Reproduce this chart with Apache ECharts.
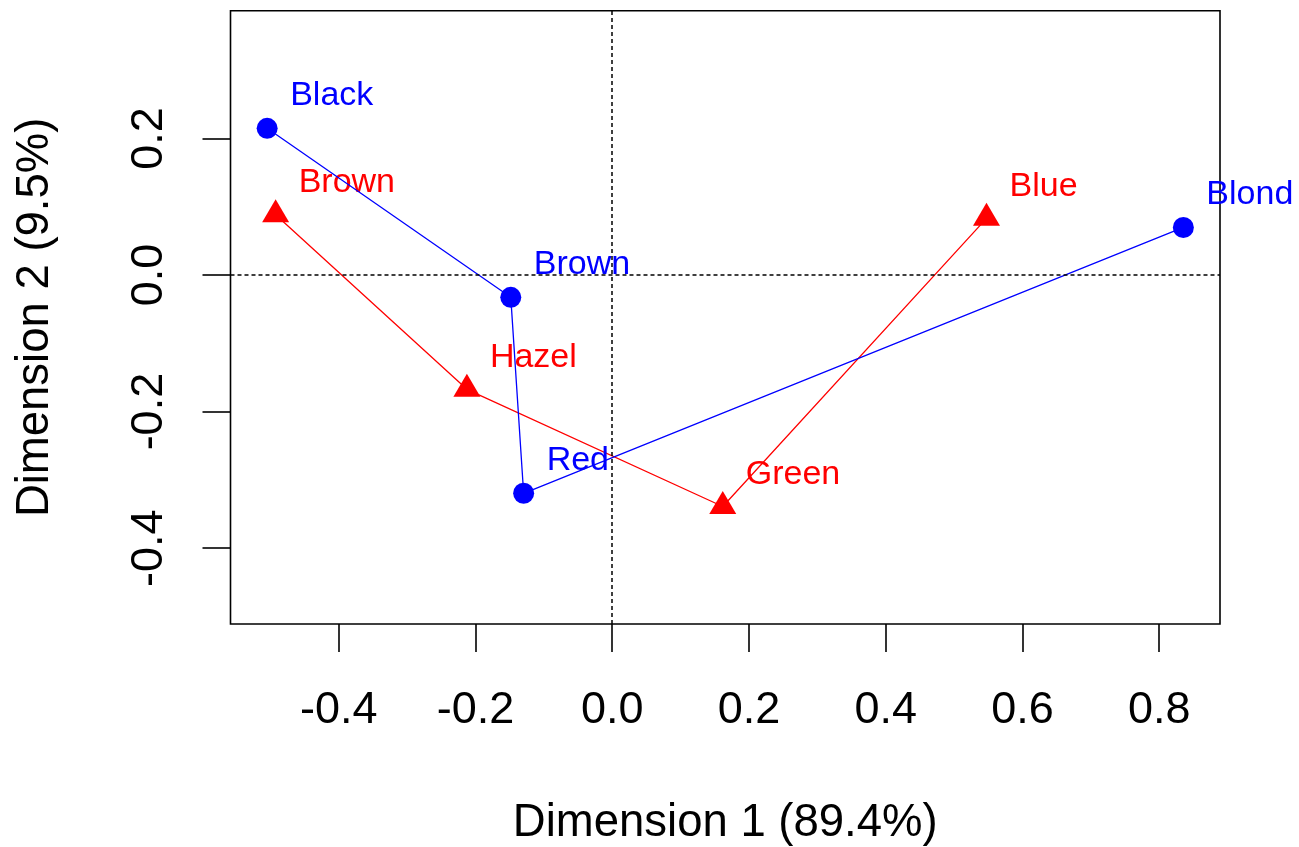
<!DOCTYPE html>
<html>
<head>
<meta charset="utf-8">
<title>CA biplot</title>
<script src="https://cdn.jsdelivr.net/npm/echarts@6/dist/echarts.min.js"></script>
<style>
  html, body { margin: 0; padding: 0; background: #fff; }
  #chart { width: 1299px; height: 847px; }
</style>
</head>
<body>
<div id="chart"></div>
<script>
// hair colour (rows) and eye colour (columns) coordinates
var hairNames = ['Black', 'Brown', 'Red', 'Blond'];
var hairDim1 = [-0.5046, -0.1483, -0.1295, 0.8353];
var hairDim2 = [0.2148, -0.0327, -0.3196, 0.0696];

var eyeNames = ['Brown', 'Hazel', 'Green', 'Blue'];
var eyeDim1 = [-0.4922, -0.2125, 0.1617, 0.5474];
var eyeDim2 = [0.0883, -0.1674, -0.3390, 0.0830];

var xTicks = [-0.4, -0.2, 0.0, 0.2, 0.4, 0.6, 0.8];
var yTicks = [-0.4, -0.2, 0.0, 0.2];
var xRange = [-0.5582, 0.8889];
var yRange = [-0.511, 0.387];

var font = '"Liberation Sans", Arial, sans-serif';

function points(names, d1, d2) {
    return names.map(function (n, i) {
        return { name: n, value: [d1[i], d2[i]] };
    });
}

var chartDom = document.getElementById('chart');
var myChart = echarts.init(chartDom);
var option;

var axisCommon = {
    type: 'value',
    nameLocation: 'middle',
    nameTextStyle: { fontFamily: font, fontSize: 45.5, color: '#000' },
    // keep the axes on the frame edges, not at zero
    axisLine: { show: false, onZero: false },
    splitLine: { show: false },
    axisTick: {
        show: true,
        inside: false,
        length: 28,
        lineStyle: { color: '#000', width: 1.6 }
    },
    axisLabel: {
        fontFamily: font,
        fontSize: 45,
        color: '#000',
        formatter: function (v) { return v.toFixed(1); }
    }
};

option = {
    animation: false,
    backgroundColor: '#fff',
    grid: {
        left: 230.5,
        right: 79,
        top: 10.7,
        bottom: 223,
        show: true,
        borderColor: '#000',
        borderWidth: 1.6,
        backgroundColor: 'transparent',
        containLabel: false,
        outerBoundsMode: 'none'
    },
    xAxis: Object.assign({}, axisCommon, {
        name: 'Dimension 1 (89.4%)',
        nameGap: 176,
        min: xRange[0],
        max: xRange[1],
        axisTick: Object.assign({}, axisCommon.axisTick, { customValues: xTicks }),
        axisLabel: Object.assign({}, axisCommon.axisLabel, { margin: 64, customValues: xTicks })
    }),
    yAxis: Object.assign({}, axisCommon, {
        name: 'Dimension 2 (9.5%)',
        nameGap: 172,
        nameRotate: 90,
        min: yRange[0],
        max: yRange[1],
        axisTick: Object.assign({}, axisCommon.axisTick, { customValues: yTicks }),
        axisLabel: Object.assign({}, axisCommon.axisLabel, { margin: 58, rotate: 90, customValues: yTicks })
    }),
    series: [
        {
            name: 'Hair',
            type: 'line',
            data: points(hairNames, hairDim1, hairDim2),
            symbol: 'circle',
            symbolSize: 21,
            showAllSymbol: true,
            lineStyle: { color: '#0000FF', width: 1.3 },
            itemStyle: { color: '#0000FF' },
            label: {
                show: true,
                position: 'inside',
                align: 'left',
                verticalAlign: 'middle',
                offset: [23, -32.5],
                formatter: '{b}',
                fontFamily: font,
                fontSize: 34,
                color: '#0000FF'
            },
            markLine: {
                silent: true,
                symbol: 'none',
                label: { show: false },
                lineStyle: { color: '#000', type: [4, 3], width: 1.5 },
                data: [{ xAxis: 0 }, { yAxis: 0 }]
            },
            z: 3
        },
        {
            name: 'Eye',
            type: 'line',
            data: points(eyeNames, eyeDim1, eyeDim2),
            symbol: 'triangle',
            symbolSize: [27, 23],
            symbolOffset: [0, -4],
            showAllSymbol: true,
            lineStyle: { color: '#FF0000', width: 1.3 },
            itemStyle: { color: '#FF0000' },
            label: {
                show: true,
                position: 'inside',
                align: 'left',
                verticalAlign: 'middle',
                offset: [23, -28],
                formatter: '{b}',
                fontFamily: font,
                fontSize: 34,
                color: '#FF0000'
            },
            z: 2
        }
    ]
};

option && myChart.setOption(option);
</script>
</body>
</html>
